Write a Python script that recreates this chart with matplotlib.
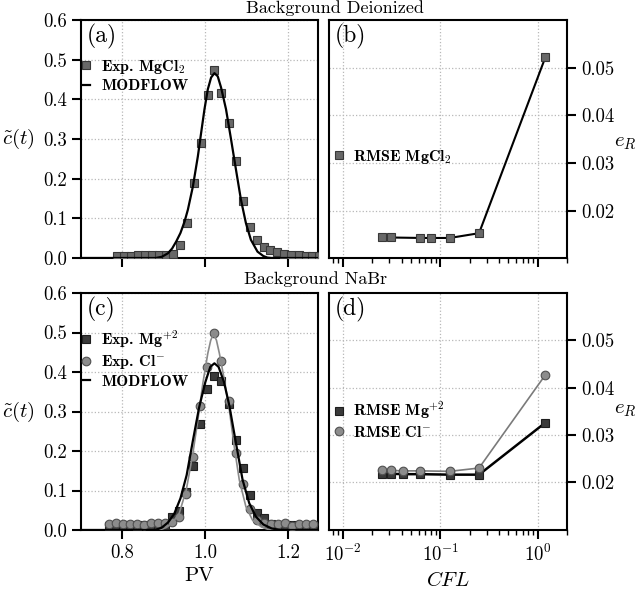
import numpy as np
import matplotlib
matplotlib.use("Agg")
import matplotlib.pyplot as plt

plt.rcParams['font.family'] = 'cmr10'
plt.rcParams['mathtext.fontset'] = 'cm'
plt.rcParams['axes.formatter.use_mathtext'] = True
plt.rcParams['axes.unicode_minus'] = False

# --- (a) Background deionized, MgCl2 breakthrough ---
pv_a = [0.787, 0.804, 0.821, 0.837, 0.854, 0.871, 0.888, 0.905, 0.922, 0.938,
        0.955, 0.972, 0.989, 1.006, 1.022, 1.039, 1.056, 1.073, 1.090, 1.107,
        1.124, 1.141, 1.157, 1.174, 1.191, 1.208, 1.225, 1.242, 1.258, 1.275]
c_mgcl2 = [0.006, 0.006, 0.006, 0.007, 0.007, 0.007, 0.007, 0.007, 0.010, 0.032,
           0.089, 0.188, 0.290, 0.411, 0.475, 0.417, 0.340, 0.244, 0.143, 0.079,
           0.045, 0.027, 0.019, 0.014, 0.010, 0.008, 0.007, 0.006, 0.006, 0.005]
pv_mod_a = [0.70, 0.88, 0.895, 0.91, 0.92, 0.93, 0.94, 0.95, 0.958, 0.97, 0.982,
            0.99, 0.998, 1.006, 1.014, 1.022, 1.030, 1.038, 1.05, 1.062, 1.074,
            1.086, 1.098, 1.11, 1.126, 1.14, 1.15, 1.16, 1.28]
c_mod_a = [0.0, 0.0, 0.003, 0.012, 0.024, 0.042, 0.063, 0.092, 0.122, 0.18, 0.256,
           0.316, 0.375, 0.425, 0.455, 0.466, 0.458, 0.43, 0.375, 0.30, 0.223,
           0.147, 0.088, 0.046, 0.016, 0.005, 0.001, 0.0, 0.0]

# --- (b) RMSE vs CFL, deionized ---
cfl_b = [0.025, 0.031, 0.0625, 0.08, 0.125, 0.25, 1.2]
rmse_b = [0.0144, 0.0144, 0.0143, 0.0143, 0.0143, 0.0153, 0.0522]

# --- (c) Background NaBr ---
pv_c = [0.768, 0.785, 0.802, 0.819, 0.836, 0.853, 0.870, 0.887, 0.903, 0.920,
        0.937, 0.954, 0.971, 0.988, 1.005, 1.022, 1.039, 1.056, 1.073, 1.090,
        1.107, 1.124, 1.141, 1.158, 1.175, 1.192, 1.209, 1.226, 1.242, 1.259]
c_mg = [0.011, 0.011, 0.012, 0.012, 0.011, 0.012, 0.012, 0.013, 0.013, 0.032,
        0.049, 0.095, 0.163, 0.268, 0.357, 0.389, 0.376, 0.318, 0.228, 0.158,
        0.088, 0.042, 0.030, 0.016, 0.013, 0.012, 0.012, 0.011, 0.011, 0.011]
c_cl = [0.015, 0.018, 0.015, 0.015, 0.016, 0.013, 0.017, 0.018, 0.017, 0.021,
        0.034, 0.090, 0.186, 0.313, 0.412, 0.499, 0.427, 0.327, 0.194, 0.117,
        0.052, 0.025, 0.018, 0.016, 0.016, 0.017, 0.010, 0.016, 0.015, 0.014]
pv_mod_mg = [0.70, 0.88, 0.895, 0.91, 0.925, 0.94, 0.955, 0.97, 0.985, 1.00, 1.012,
             1.022, 1.032, 1.045, 1.058, 1.074, 1.09, 1.106, 1.122, 1.14, 1.16,
             1.18, 1.28]
c_mod_mg = [0.0, 0.0, 0.006, 0.019, 0.041, 0.080, 0.139, 0.226, 0.31, 0.374, 0.413,
            0.422, 0.413, 0.375, 0.315, 0.22, 0.127, 0.068, 0.034, 0.014, 0.004,
            0.0, 0.0]
pv_mod_cl = [0.70, 0.89, 0.905, 0.92, 0.937, 0.954, 0.97, 0.982, 0.994, 1.006,
             1.013, 1.02, 1.027, 1.034, 1.046, 1.058, 1.07, 1.082, 1.098, 1.114,
             1.135, 1.15, 1.17, 1.28]
c_mod_cl = [0.0, 0.0, 0.006, 0.017, 0.042, 0.101, 0.194, 0.278, 0.371, 0.447,
            0.48, 0.497, 0.48, 0.447, 0.38, 0.304, 0.21, 0.127, 0.059, 0.025,
            0.008, 0.002, 0.0, 0.0]

# --- (d) RMSE vs CFL, NaBr ---
cfl_d = [0.025, 0.031, 0.041, 0.0625, 0.125, 0.25, 1.2]
rmse_mg = [0.0218, 0.0218, 0.0217, 0.0217, 0.0216, 0.0216, 0.0326]
rmse_cl = [0.0225, 0.0225, 0.0224, 0.0224, 0.0223, 0.0230, 0.0427]

W, H = 638, 593
fig = plt.figure(figsize=(W / 100, H / 100), dpi=100)


def box(l, t, r, b):
    return [l / W, 1 - b / H, (r - l) / W, (b - t) / H]


axa = fig.add_axes(box(81, 20, 318, 258))
axb = fig.add_axes(box(329, 20, 567, 258))
axc = fig.add_axes(box(81, 293, 318, 530))
axd = fig.add_axes(box(329, 293, 567, 530))

sq_a = dict(marker='s', ms=6.2, mfc='#686868', mec='#383838', mew=0.8, ls='none')
sq_mg = dict(marker='s', ms=6.2, mfc='#3a3a3a', mec='#1e1e1e', mew=0.8, ls='none')
ci_cl = dict(marker='o', ms=6.2, mfc='#8c8c8c', mec='#505050', mew=0.8, ls='none')
leg_kw = dict(frameon=False, prop={'family': 'cmb10', 'size': 11.5}, handlelength=0.45,
              handletextpad=0.7, labelspacing=0.2, borderpad=0.0, borderaxespad=0.0)
grid_kw = dict(ls=':', color='#b8b8b8', lw=0.9)

for ax in (axa, axb, axc, axd):
    for s in ax.spines.values():
        s.set_linewidth(1.5)
    ax.tick_params(which='major', direction='out', length=6.5, width=1.5, labelsize=13.5)
    ax.tick_params(which='minor', direction='out', length=3.5, width=1.0)
    ax.grid(True, **grid_kw)
    ax.set_axisbelow(True)

# (a)
axa.plot(pv_a, c_mgcl2, label='Exp. MgCl$_2$', zorder=3, **sq_a)
axa.plot(pv_mod_a, c_mod_a, color='black', lw=1.6, label='MODFLOW', zorder=4)
axa.set_xlim(0.70, 1.272)
axa.set_ylim(0, 0.6)
axa.set_xticks([0.8, 1.0, 1.2])
axa.set_xticklabels([])
axa.set_yticks(np.arange(0, 0.61, 0.1))
axa.set_yticklabels(['0.0', '0.1', '0.2', '0.3', '0.4', '0.5', '0.6'])
axa.legend(loc='upper left', bbox_to_anchor=(0.008, 0.84), **leg_kw)
axa.set_ylabel(r'$\tilde{c}(t)$', rotation=0, fontsize=15, ha='center', va='center')
axa.yaxis.set_label_coords(-0.265, 0.5)
axa.text(0.025, 0.985, '(a)', transform=axa.transAxes, ha='left', va='top', fontsize=17)

# (b)
axb.plot(cfl_b, rmse_b, color='black', lw=1.5, zorder=3)
axb.plot(cfl_b, rmse_b, label='RMSE MgCl$_2$', zorder=4, **sq_a)
axb.set_xscale('log')
axb.set_xlim(0.0072, 2.0)
axb.set_ylim(0.0101, 0.060)
axb.set_yticks([0.02, 0.03, 0.04, 0.05])
axb.set_yticklabels(['0.02', '0.03', '0.04', '0.05'])
axb.yaxis.tick_right()
axb.yaxis.set_label_position('right')
axb.set_xticklabels([])
axb.tick_params(axis='x', which='minor', labelbottom=False)
axb.grid(False, which='minor')
axb.legend(loc='center left', bbox_to_anchor=(0.025, 0.425), **leg_kw)
axb.set_ylabel('$e_R$', rotation=0, fontsize=15, ha='center', va='center')
axb.yaxis.set_label_coords(1.245, 0.485)
axb.text(0.025, 0.985, '(b)', transform=axb.transAxes, ha='left', va='top', fontsize=17)

# (c)
axc.plot(pv_c, c_mg, label='Exp. Mg$^{+2}$', zorder=3, **sq_mg)
axc.plot(pv_c, c_cl, label='Exp. Cl$^{-}$', zorder=3, **ci_cl)
axc.plot(pv_mod_cl, c_mod_cl, color='#8a8a8a', lw=1.2, zorder=4)
axc.plot(pv_mod_mg, c_mod_mg, color='black', lw=1.6, label='MODFLOW', zorder=5)
axc.set_xlim(0.70, 1.272)
axc.set_ylim(0, 0.6)
axc.set_xticks([0.8, 1.0, 1.2])
axc.set_xticklabels(['0.8', '1.0', '1.2'])
axc.set_yticks(np.arange(0, 0.61, 0.1))
axc.set_yticklabels(['0.0', '0.1', '0.2', '0.3', '0.4', '0.5', '0.6'])
axc.legend(loc='upper left', bbox_to_anchor=(0.008, 0.85), **leg_kw)
axc.set_ylabel(r'$\tilde{c}(t)$', rotation=0, fontsize=15, ha='center', va='center')
axc.yaxis.set_label_coords(-0.265, 0.5)
axc.set_xlabel('PV', fontsize=15, labelpad=4)
axc.text(0.025, 0.985, '(c)', transform=axc.transAxes, ha='left', va='top', fontsize=17)

# (d)
axd.plot(cfl_d, rmse_mg, color='black', lw=1.8, zorder=3)
axd.plot(cfl_d, rmse_cl, color='#7a7a7a', lw=1.2, zorder=3)
axd.plot(cfl_d, rmse_mg, label='RMSE Mg$^{+2}$', zorder=4, **sq_mg)
axd.plot(cfl_d, rmse_cl, label='RMSE Cl$^{-}$', zorder=5, **ci_cl)
axd.set_xscale('log')
axd.set_xlim(0.0072, 2.0)
axd.set_ylim(0.0099, 0.060)
axd.set_yticks([0.02, 0.03, 0.04, 0.05])
axd.set_yticklabels(['0.02', '0.03', '0.04', '0.05'])
axd.yaxis.tick_right()
axd.yaxis.set_label_position('right')
axd.grid(False, which='minor')
axd.legend(loc='center left', bbox_to_anchor=(0.025, 0.465), **leg_kw)
axd.set_ylabel('$e_R$', rotation=0, fontsize=15, ha='center', va='center')
axd.yaxis.set_label_coords(1.245, 0.505)
axd.set_xlabel('$CFL$', fontsize=15, labelpad=4)
axd.text(0.025, 0.985, '(d)', transform=axd.transAxes, ha='left', va='top', fontsize=17)

fig.text(335 / W, 1 - 8 / H, 'Background Deionized', ha='center', va='center', fontsize=13)
fig.text(316 / W, 1 - 279 / H, 'Background NaBr', ha='center', va='center', fontsize=13)

fig.savefig('out.png', dpi=100)
